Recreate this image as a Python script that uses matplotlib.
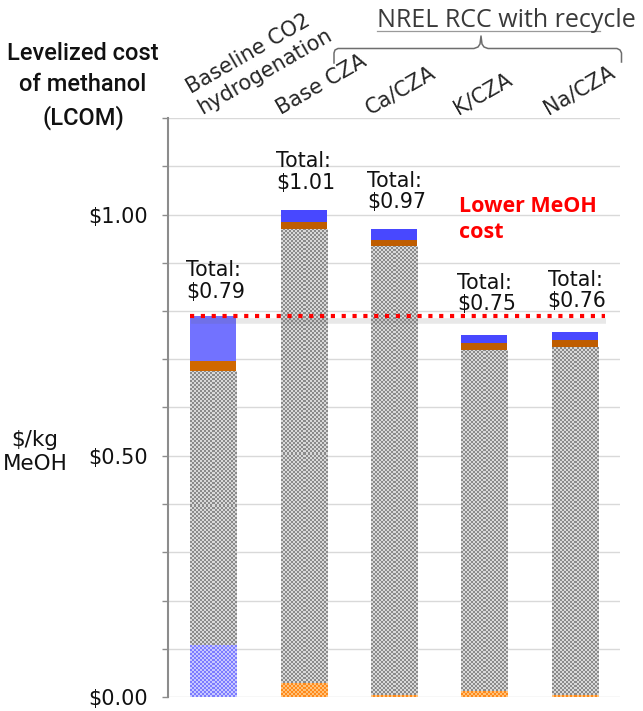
import numpy as np
import matplotlib
matplotlib.use('Agg')
import matplotlib.pyplot as plt
from matplotlib.colors import to_rgb
from matplotlib.lines import Line2D
from matplotlib.ticker import MultipleLocator, FuncFormatter
import matplotlib.transforms as mtransforms

categories = ['Baseline CO2\nhydrogenation', 'Base CZA', 'Ca/CZA', 'K/CZA', 'Na/CZA']
# stacked cost components, $/kg MeOH (bottom to top)
lower_blue = [0.107, 0.0, 0.0, 0.0, 0.0]
lower_orange = [0.0, 0.029, 0.004, 0.012, 0.005]
main_cost = [0.569, 0.941, 0.931, 0.708, 0.721]
mid_orange = [0.021, 0.014, 0.013, 0.013, 0.014]
top_blue = [0.093, 0.026, 0.022, 0.017, 0.016]
y_ticks = [0.0, 0.5, 1.0]
group_label = 'NREL RCC with recycle'

W, H = 643, 711
fig = plt.figure(figsize=(W / 100, H / 100), dpi=100)
ax = fig.add_axes([168 / W, 14 / H, 452 / W, 579 / H])
ax.set_xlim(-0.5, 4.5)
ax.set_ylim(0, 1.2)


def px(x, y):
    # pixel position (from top-left) -> figure fraction
    return x / W, 1 - y / H


def checker(patch, c1, c2, cell=2):
    x0, y0 = patch.get_x(), patch.get_y()
    w, h = patch.get_width(), patch.get_height()
    if h <= 0:
        return
    p0 = ax.transData.transform((x0, y0))
    p1 = ax.transData.transform((x0 + w, y0 + h))
    nx = max(1, int(round((p1[0] - p0[0]) / cell)))
    ny = max(1, int(round((p1[1] - p0[1]) / cell)))
    grid = np.add.outer(np.arange(ny), np.arange(nx)) % 2
    rgb = np.where(grid[..., None] == 1, to_rgb(c1), to_rgb(c2))
    im = ax.imshow(rgb, extent=(x0, x0 + w, y0, y0 + h), origin='lower',
                   interpolation='nearest', aspect='auto', zorder=3)
    im.set_clip_path(patch)


x = np.arange(len(categories))
width = 0.51
bottom = np.zeros(len(categories))

layers = [
    (lower_blue, ('#7c7cff', '#c8c8ff')),
    (lower_orange, ('#ff8a1c', '#ffc27a')),
    (main_cost, ('#8a8a8a', '#d8d8d8')),
    (mid_orange, ['#d06800', '#bf5d00', '#bf5d00', '#bf5d00', '#bf5d00']),
    (top_blue, ['#7272ff', '#4848ff', '#4848ff', '#4848ff', '#4848ff']),
]
for vals, col in layers:
    vals = np.array(vals)
    if isinstance(col, tuple):
        bars = ax.bar(x, vals, width, bottom=bottom, color='none', linewidth=0, zorder=3)
        for p in bars:
            checker(p, *col)
    else:
        ax.bar(x, vals, width, bottom=bottom, color=col, linewidth=0, zorder=3)
    bottom = bottom + vals
totals = bottom

ax.set_xlim(-0.5, 4.5)
ax.set_ylim(0, 1.2)

# totals above each bar
label_dy = [10, 12, 12, 15, 15]
for i, t in enumerate(totals):
    ax.annotate(f'Total:\n${t:.2f}', xy=(x[i] - 0.30, t), xytext=(0, label_dy[i]),
                textcoords='offset points', ha='left', va='bottom',
                fontsize=14.8, linespacing=1.1, color='#111111', zorder=6)

# reference line at the baseline cost
shadow = mtransforms.offset_copy(ax.transData, fig=fig, x=1, y=-5, units='dots')
ax.plot([-0.26, 4.33], [totals[0], totals[0]], color='#666666', alpha=0.15,
        lw=4, transform=shadow, zorder=4, solid_capstyle='butt')
ax.plot([-0.26, 4.33], [totals[0], totals[0]], color='#ff0000', lw=3,
        linestyle=(0, (1, 1.6)), dash_capstyle='butt', zorder=5)

ax.text(2.72, 0.99, 'Lower MeOH\ncost', color='#ff0000', fontweight='bold',
        family='Open Sans', fontsize=15.5, ha='left', va='center', linespacing=1.3)

# axes styling
ax.set_yticks(y_ticks)
ax.yaxis.set_major_formatter(FuncFormatter(lambda v, pos: f'${v:.2f}'))
ax.yaxis.set_minor_locator(MultipleLocator(0.1))
ax.set_xticks([])
ax.tick_params(axis='y', which='both', direction='out', length=4.5, width=1,
               color='#8c8c8c')
ax.tick_params(axis='y', which='major', labelsize=15, pad=10, labelcolor='#111111')
ax.grid(axis='y', which='both', color='#d9d9d9', lw=1.0)
ax.set_axisbelow(True)
for s in ['top', 'right', 'bottom']:
    ax.spines[s].set_visible(False)
ax.spines['left'].set_color('#8c8c8c')
ax.spines['left'].set_linewidth(1.5)

# category labels along the top
label_dx = [-0.1, -0.23, -0.24, -0.27, -0.27]
top = mtransforms.blended_transform_factory(ax.transData, ax.transAxes)
for i, lab in enumerate(categories):
    ax.text(x[i] + label_dx[i], 1.0, lab, transform=top, rotation=30,
            rotation_mode='anchor', ha='left', va='bottom', fontsize=15,
            color='#262626', clip_on=False)

# grouping bracket over the four NREL cases
pts = [(334, 63), (334, 53), (335, 50), (338, 48.5), (474, 48.5), (478, 47),
       (480, 44), (481, 36), (482, 44), (484, 47), (488, 48.5), (617, 48.5),
       (620, 50), (621.5, 53), (621.5, 62)]
bx, by = zip(*[px(*p) for p in pts])
fig.add_artist(Line2D(bx, by, transform=fig.transFigure, color='#6e6e6e', lw=1.1))
ux, uy = zip(px(377, 30.5), px(600, 30.5))
fig.add_artist(Line2D(ux, uy, transform=fig.transFigure, color='#9a9a9a', lw=0.9))
fig.text(*px(377, 27), group_label, family='Open Sans', fontsize=18,
         color='#3a3a3a', ha='left', va='baseline')

# axis titles
fig.text(*px(83, 86), 'Levelized cost\nof methanol\n(LCOM)', family='Roboto',
         fontweight='medium', fontsize=17, ha='center', va='center',
         linespacing=1.45, color='#111111')
fig.text(*px(35, 452), '$/kg\nMeOH', fontsize=15.5, ha='center', va='center',
         color='#111111')

fig.savefig('out.png', dpi=100)
